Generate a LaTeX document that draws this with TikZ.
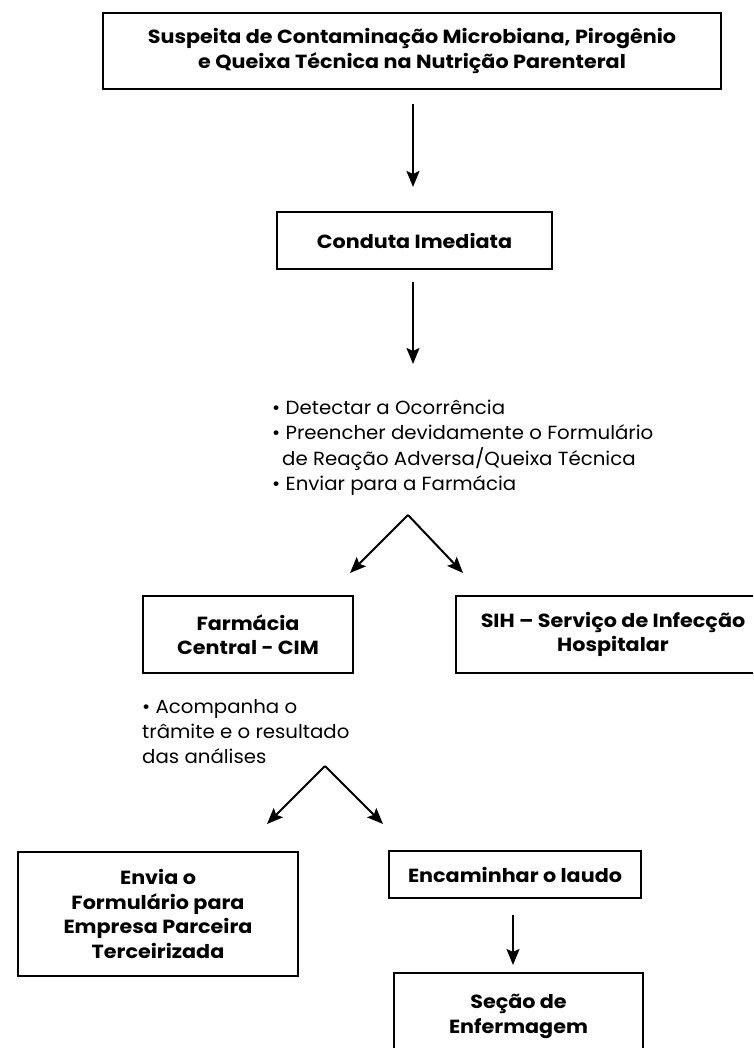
\documentclass[tikz,border=0pt]{standalone}
\usepackage{fontspec}
\setmainfont{Poppins}[FakeStretch=1.04, BoldFeatures={FakeStretch=1.09}]
\usetikzlibrary{arrows.meta}
\tikzset{
  box/.style={draw, line width=2.8pt, align=center, inner sep=0pt,
    font=\bfseries\fontsize{19}{24.5}\selectfont},
  lst/.style={align=left, inner sep=0pt, anchor=north west,
    font=\fontsize{19}{25.3}\selectfont},
  arr/.style={-{Stealth[length=16pt,width=13pt,inset=3pt]}, line width=2pt},
}
\begin{document}
\begin{tikzpicture}[x=1pt,y=-1pt]
\useasboundingbox (0,0) rectangle (753,1048);
\clip (0,0) rectangle (753,1048);
\fill[white] (0,0) rectangle (753,1048);

\node[box, minimum width=618, minimum height=76] (title) at (412,51)
  {Suspeita de Contaminação Microbiana, Pirogênio\\e Queixa Técnica na Nutrição Parenteral};
\coordinate (a1s) at (413,104);
\coordinate (a1e) at (413,187);
\draw[arr] (a1s) -- (a1e);

\node[box, minimum width=275, minimum height=57] (cond) at (414.5,240.5) {Conduta Imediata};
\coordinate (a2s) at (413,282);
\coordinate (a2e) at (413,364);
\draw[arr] (a2s) -- (a2e);

\node[lst] (list1) at (272,400)
  {• Detectar a Ocorrência\\• Preencher devidamente o Formulário\\\hspace*{10pt}de Reação Adversa/Queixa Técnica\\• Enviar para a Farmácia};

\coordinate (ap1) at (408,515);
\coordinate (t1l) at (350,573);
\coordinate (t1r) at (463,573);
\draw[arr] (ap1) -- (t1l);
\draw[arr] (ap1) -- (t1r);

\node[box, minimum width=210, minimum height=77] (farm) at (248,634.5) {Farmácia\\Central - CIM};
\node[box, minimum width=314, minimum height=77] (sih) at (613,634.5) {SIH – Serviço de Infecção\\Hospitalar};

\node[lst] (list2) at (142,699) {• Acompanha o\\trâmite e o resultado\\das análises};

\coordinate (ap2) at (325,766);
\coordinate (t2l) at (267,824);
\coordinate (t2r) at (383,824);
\draw[arr] (ap2) -- (t2l);
\draw[arr] (ap2) -- (t2r);

\node[box, minimum width=280, minimum height=124] (envia) at (158,914)
  {Envia o\\Formulário para\\Empresa Parceira\\Terceirizada};
\node[box, minimum width=252, minimum height=47] (enc) at (515,874.5) {Encaminhar o laudo};
\coordinate (a3s) at (513,915);
\coordinate (a3e) at (513,965);
\draw[arr] (a3s) -- (a3e);
\node[box, minimum width=249, minimum height=87] (secao) at (518.5,1016.5) {Seção de\\Enfermagem};
\end{tikzpicture}
\end{document}
